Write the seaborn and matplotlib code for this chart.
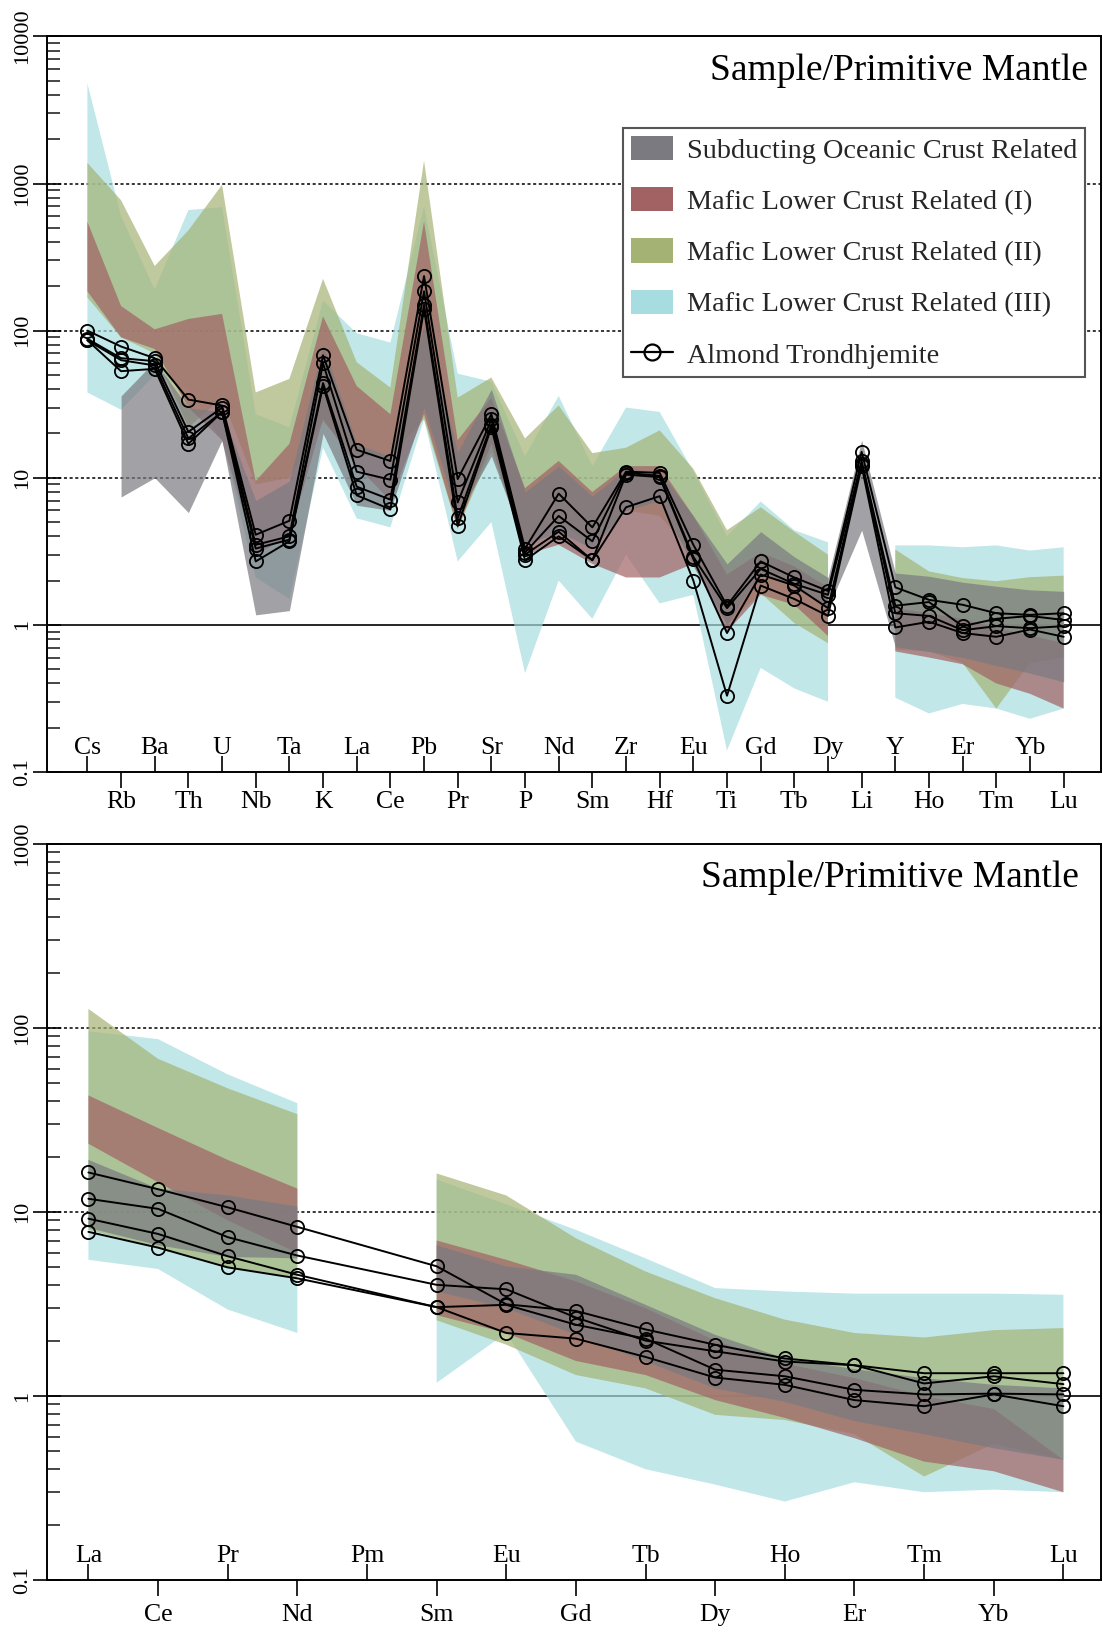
import numpy as np
import pandas as pd
import matplotlib
matplotlib.use("Agg")
import matplotlib.pyplot as plt
import seaborn as sns
from matplotlib.patches import Patch
from matplotlib.lines import Line2D
from matplotlib.ticker import NullFormatter, LogLocator

nan = np.nan

# ---------------- data: trace-element spider diagram (top) ----------------
spider_elems = ['Cs', 'Rb', 'Ba', 'Th', 'U', 'Nb', 'Ta', 'K', 'La', 'Ce', 'Pb', 'Pr', 'Sr', 'P', 'Nd',
                'Sm', 'Zr', 'Hf', 'Eu', 'Ti', 'Gd', 'Tb', 'Dy', 'Li', 'Y', 'Ho', 'Er', 'Tm', 'Yb', 'Lu']

soc_lo = [nan, 7.4, 10, 5.8, 18, 1.17, 1.25, 20, 6.5, 6, 30, 5.5, 14, 3.5, 4.3, 3.3, 6, 7, 2.5, 1.0,
          2.3, 1.8, 1.3, 4.4, 0.71, 0.66, 0.6, 0.53, 0.47, 0.41]
soc_hi = [nan, 36, 62, 30, 28, 7, 9.5, 80, 17, 14, 110, 15, 40, 8, 12, 7.5, 11.5, 11, 5.5, 2.6,
          4.3, 2.9, 2.1, 18, 2.25, 2.14, 1.95, 1.83, 1.73, 1.69]
mlc1_lo = [185, 90, 75, 30, 18, 3, 4, 25, 12, 7, 27, 4.5, 17, 3, 3.5, 2.6, 2.1, 2.1, 2.6, 0.9,
           1.6, 1.37, 0.84, nan, 0.66, 0.6, 0.54, 0.4, 0.34, 0.27]
mlc1_hi = [550, 147, 102, 120, 130, 9.5, 17, 125, 42, 27, 550, 18, 35, 8.5, 13, 8, 12, 12, 5.5, 2.2,
           3.1, 2.5, 1.8, nan, 1.3, 1.2, 1.1, 0.95, 0.85, 0.75]
mlc2_lo = [168, 90, 70, 22, 35, 9, 10, 24, 14, 14, 25, 4.5, 15, 3.5, 5, 3.5, 6, 5.5, 3, 1.0,
           1.64, 1.03, 0.75, nan, 0.68, 0.66, 0.55, 0.27, 0.55, 0.6]
mlc2_hi = [1380, 770, 275, 480, 980, 38, 47, 225, 61, 41, 1430, 35, 48, 18.5, 31, 14.7, 16, 21, 11.5, 4.4,
           6.3, 4.3, 3.0, nan, 3.25, 2.31, 2.08, 1.98, 2.11, 2.16]
mlc3_lo = [38, 29, 50, 40, 18, 2.1, 1.5, 16, 5.3, 4.6, 25, 2.7, 5, 0.47, 2.0, 1.1, 3.0, 1.4, 1.6, 0.14,
           0.51, 0.37, 0.30, nan, 0.32, 0.25, 0.29, 0.27, 0.23, 0.27]
mlc3_hi = [4800, 600, 190, 660, 690, 27, 22, 160, 96, 83, 700, 51, 45, 14, 36, 12, 30, 28, 11, 4,
           6.9, 4.4, 3.64, nan, 3.47, 3.47, 3.37, 3.47, 3.2, 3.37]

almond_1 = [100, 78, 65, 34, 31, 4.1, 5.1, 68, 15.5, 13, 235, 9.8, 27, 3.3, 7.8, 4.6, 11, 10.8, 3.5, 1.35,
            2.7, 2.1, 1.7, 15, 1.8, 1.48, 1.37, 1.2, 1.17, 1.2]
almond_2 = [88, 65, 62, 20.5, 30, 3.5, 4.0, 60, 11, 9.7, 185, 6.8, 25, 3.1, 5.5, 3.7, 10.8, 10.3, 2.9, 1.3,
            2.4, 1.9, 1.6, 13, 1.35, 1.43, 0.98, 1.1, 1.15, 1.08]
almond_3 = [86, 63, 58, 18.5, 28, 3.3, 3.8, 44, 8.7, 7.1, 150, 5.3, 23, 3.0, 4.3, 2.75, 10.5, 10.1, 2.8, 0.88,
            2.2, 1.85, 1.3, 12.5, 1.2, 1.15, 0.92, 0.98, 0.95, 0.98]
almond_4 = [86, 53, 55, 17, 28, 2.7, 3.7, 42, 7.6, 6.1, 140, 4.7, 22, 2.75, 4.0, 2.75, 6.3, 7.5, 2.0, 0.33,
            1.85, 1.5, 1.15, 12, 0.96, 1.05, 0.88, 0.83, 0.93, 0.83]

# ---------------- data: REE diagram (bottom) ----------------
ree_elems = ['La', 'Ce', 'Pr', 'Nd', 'Pm', 'Sm', 'Eu', 'Gd', 'Tb', 'Dy', 'Ho', 'Er', 'Tm', 'Yb', 'Lu']

ree_soc_lo = [8.2, 6.6, 5.7, 5.6, nan, 3.7, 3.0, 2.15, 1.54, 1.1, 0.93, 0.73, 0.62, 0.52, 0.45]
ree_soc_hi = [19.2, 13.4, 12.3, 10.7, nan, 6.6, 5.06, 4.56, 3.13, 2.15, 1.6, 1.4, 1.25, 1.15, 1.1]
ree_mlc1_lo = [23.5, 14.5, 9, 6, nan, 2.75, 2.2, 1.55, 1.3, 0.95, 0.76, 0.59, 0.44, 0.39, 0.30]
ree_mlc1_hi = [43, 28.6, 19.2, 13.4, nan, 7.0, 5.5, 4.2, 3.0, 2.0, 1.5, 1.25, 1.0, 0.85, 0.45]
ree_mlc2_lo = [8, 6.4, 5.0, 4.4, nan, 2.58, 1.9, 1.3, 1.1, 0.79, 0.74, 0.62, 0.365, 0.55, 0.45]
ree_mlc2_hi = [127, 68, 47, 34, nan, 16.2, 12.3, 7.2, 4.75, 3.4, 2.6, 2.2, 2.08, 2.28, 2.34]
ree_mlc3_lo = [5.5, 4.9, 2.95, 2.2, nan, 1.18, 2.2, 0.565, 0.40, 0.33, 0.267, 0.34, 0.30, 0.31, 0.30]
ree_mlc3_hi = [96, 87, 56, 39, nan, 15, 11, 8.0, 5.6, 3.86, 3.7, 3.6, 3.6, 3.6, 3.55]

ree_almond_1 = [16.4, 13.3, 10.6, 8.3, nan, 5.07, 3.15, 2.9, 2.3, 1.9, 1.6, 1.47, 1.33, 1.33, 1.33]
ree_almond_2 = [11.8, 10.4, 7.3, 5.8, nan, 4.02, 3.8, 2.67, 2.0, 1.75, 1.54, 1.47, 1.17, 1.28, 1.16]
ree_almond_3 = [9.2, 7.6, 5.75, 4.56, nan, 3.04, 3.13, 2.44, 2.05, 1.39, 1.28, 1.08, 1.02, 1.03, 1.02]
ree_almond_4 = [7.8, 6.4, 5.0, 4.36, nan, 3.04, 2.2, 2.05, 1.63, 1.26, 1.15, 0.95, 0.88, 1.02, 0.88]

group_names = ['Subducting Oceanic Crust Related', 'Mafic Lower Crust Related (I)',
               'Mafic Lower Crust Related (II)', 'Mafic Lower Crust Related (III)']
group_colors = ['#7a7a80', '#a26264', '#a4b374', '#a7dde1']

sns.set_theme(style='ticks')
plt.rcParams['font.family'] = ['Liberation Serif', 'DejaVu Serif']
plt.rcParams['axes.linewidth'] = 1.4

fig = plt.figure(figsize=(11.03, 16.32), dpi=100)
ax1 = fig.add_axes([0.04261, 0.52696, 0.95558, 0.45074])
ax2 = fig.add_axes([0.04261, 0.03186, 0.95558, 0.45098])


def draw_panel(ax, elems, bands, samples, ymax, xlim, low_pad, title_pos):
    x = np.arange(len(elems))
    ax.set_yscale('log')
    # dotted decade guides, solid line at 1
    for lev in [10, 100, 1000]:
        if lev < ymax:
            ax.axhline(lev, color='black', lw=1.1, ls=(0, (2, 1.7)), zorder=0.5)
    ax.axhline(1, color='black', lw=1.2, zorder=0.5)

    # envelopes, drawn from the back (III) to the front (subducting crust)
    for (lo, hi), col in list(zip(bands, group_colors))[::-1]:
        ax.fill_between(x, np.array(lo, float), np.array(hi, float), color=col, alpha=0.7,
                        lw=0, zorder=1)

    rows = []
    for k, s in enumerate(samples):
        for xi, v in zip(x, s):
            if not np.isnan(v):
                rows.append({'x': xi, 'value': v, 'sample': f'AT-{k + 1}'})
    df = pd.DataFrame(rows)
    sns.lineplot(data=df, x='x', y='value', units='sample', estimator=None, sort=False,
                 color='black', lw=1.4, marker='o', markersize=9.5, markerfacecolor='none',
                 markeredgecolor='black', markeredgewidth=1.3, legend=False, ax=ax, zorder=3)

    ax.set_xlim(*xlim)
    ax.set_ylim(0.1, ymax)
    ax.set_xlabel('')
    ax.set_ylabel('')

    # element labels alternate: below the axis (outward ticks) and above it (inward ticks)
    ax.set_xticks(x[1::2], labels=elems[1::2])
    ax.set_xticks(x[0::2], labels=elems[0::2], minor=True)
    ax.tick_params(axis='x', which='major', direction='out', length=11.5, width=1.2,
                   labelsize=18.5, pad=low_pad, colors='black')
    ax.tick_params(axis='x', which='minor', direction='in', length=11.5, width=1.2,
                   labelsize=18.5, pad=-25, colors='black')

    decades = [0.1, 1, 10, 100, 1000, 10000]
    decades = [d for d in decades if d <= ymax]
    ax.set_yticks(decades, labels=[f'{d:g}' for d in decades])
    ax.yaxis.set_minor_locator(LogLocator(base=10, subs=np.arange(2, 10)))
    ax.yaxis.set_minor_formatter(NullFormatter())
    ax.tick_params(axis='y', which='major', direction='inout', length=19.5, width=1.2,
                   labelsize=16, pad=1, labelrotation=90, colors='black')
    ax.tick_params(axis='y', which='minor', direction='in', length=9.4, width=1.2)
    for lab in ax.get_yticklabels():
        lab.set_verticalalignment('center')
    for sp in ax.spines.values():
        sp.set_color('black')
        sp.set_linewidth(1.4)
        sp.set_zorder(4)
    ax.text(title_pos[0], title_pos[1], 'Sample/Primitive Mantle', transform=ax.transAxes,
            ha='right', va='center', fontsize=27, color='black')


draw_panel(ax1, spider_elems,
           [(soc_lo, soc_hi), (mlc1_lo, mlc1_hi), (mlc2_lo, mlc2_hi), (mlc3_lo, mlc3_hi)],
           [almond_1, almond_2, almond_3, almond_4], 10000, (-1.2, 30.11), 2.0, (0.988, 0.953))
draw_panel(ax2, ree_elems,
           [(ree_soc_lo, ree_soc_hi), (ree_mlc1_lo, ree_mlc1_hi),
            (ree_mlc2_lo, ree_mlc2_hi), (ree_mlc3_lo, ree_mlc3_hi)],
           [ree_almond_1, ree_almond_2, ree_almond_3, ree_almond_4], 1000, (-0.595, 14.54),
           6.0, (0.979, 0.954))

handles = [Patch(facecolor=c, edgecolor='none') for c in group_colors]
handles.append(Line2D([], [], color='black', lw=1.6, marker='o', markersize=11.5,
                      markerfacecolor='none', markeredgecolor='black', markeredgewidth=1.6))
leg = ax1.legend(handles, group_names + ['Almond Trondhjemite'], loc='upper right',
                 bbox_to_anchor=(0.985, 0.8755), fontsize=20.3, frameon=True, fancybox=False,
                 framealpha=1, edgecolor='#555555', borderaxespad=0, borderpad=0.28,
                 handlelength=1.5, handleheight=0.95, handletextpad=0.5, labelspacing=0.83)
leg.get_frame().set_linewidth(1.5)
leg.set_zorder(5)

fig.savefig('out.png', dpi=100)
